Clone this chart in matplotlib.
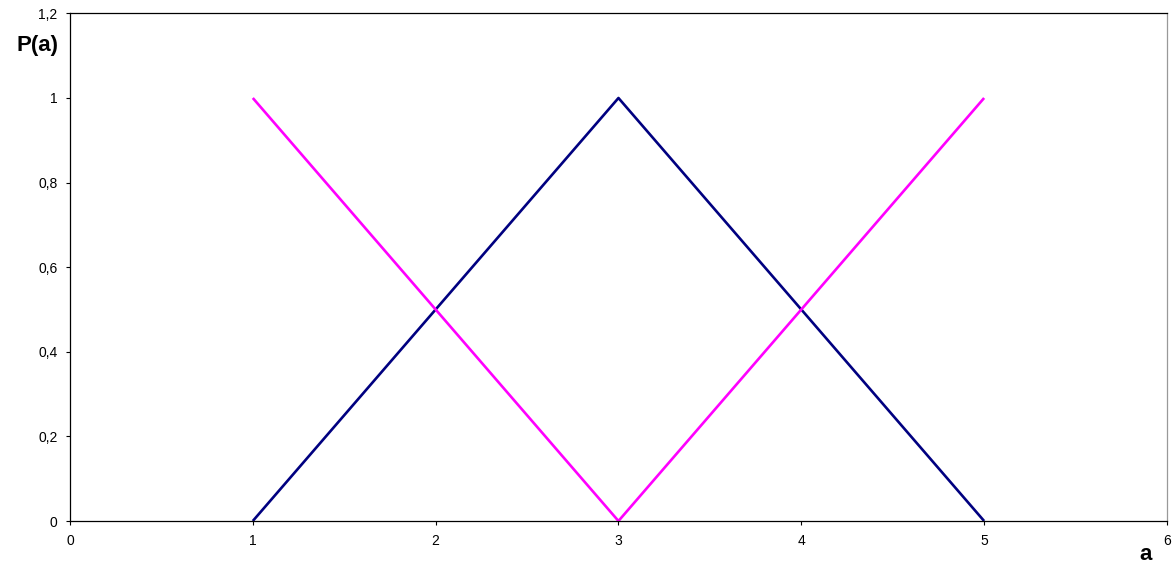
import matplotlib
matplotlib.use("Agg")
import matplotlib.pyplot as plt
from matplotlib.ticker import FuncFormatter

plt.rcParams['font.family'] = ['Liberation Sans', 'DejaVu Sans']

# data
a_vals = [1, 2, 3, 4, 5]
p_up = [0, 0.5, 1, 0.5, 0]      # navy triangle
p_down = [1, 0.5, 0, 0.5, 1]    # magenta V
x_ticks = [0, 1, 2, 3, 4, 5, 6]
y_ticks = [0, 0.2, 0.4, 0.6, 0.8, 1, 1.2]

fig = plt.figure(figsize=(11.72, 5.63), dpi=100)
ax = fig.add_axes([0.0597, 0.0746, 0.9360, 0.9016])

ax.plot(a_vals, p_up, color='#000080', lw=1.9, solid_capstyle='butt')
ax.plot(a_vals, p_down, color='#FF00FF', lw=1.9, solid_capstyle='butt')

ax.set_xlim(0, 6)
ax.set_ylim(0, 1.2)
ax.set_xticks(x_ticks)
ax.set_yticks(y_ticks)
fmt = FuncFormatter(lambda v, p: ('%g' % v).replace('.', ','))
ax.xaxis.set_major_formatter(fmt)
ax.yaxis.set_major_formatter(fmt)
ax.tick_params(direction='out', length=3, width=0.8, labelsize=10)
ax.tick_params(axis='x', pad=6.5)
ax.tick_params(axis='y', pad=6)

for s in ['left', 'bottom', 'top']:
    ax.spines[s].set_color('black')
    ax.spines[s].set_linewidth(0.9)
ax.spines['right'].set_color('#999999')
ax.spines['right'].set_linewidth(0.9)

fig.text(37 / 1172, 1 - 45 / 563, 'P(a)', fontsize=16, fontweight='bold',
         ha='center', va='center')
fig.text(1146 / 1172, 1 - 554 / 563, 'a', fontsize=16, fontweight='bold',
         ha='center', va='center')

fig.savefig('out.png', dpi=100)
